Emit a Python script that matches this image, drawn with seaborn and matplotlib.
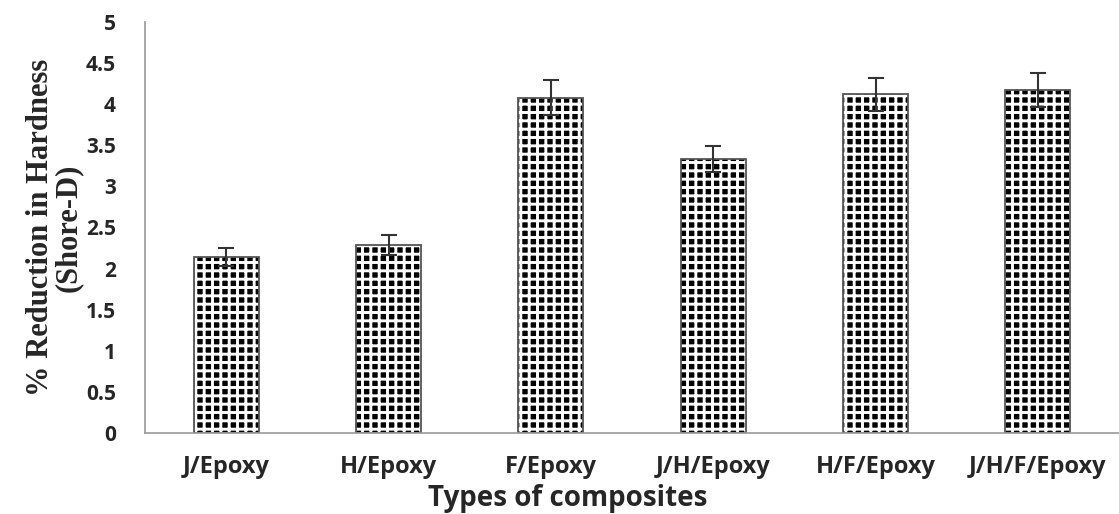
import numpy as np
import pandas as pd
import matplotlib
matplotlib.use('Agg')
import matplotlib.pyplot as plt
from matplotlib.patches import Rectangle
import seaborn as sns

composites = ["J/Epoxy", "H/Epoxy", "F/Epoxy", "J/H/Epoxy", "H/F/Epoxy", "J/H/F/Epoxy"]
reduction = [2.14, 2.29, 4.08, 3.33, 4.12, 4.17]
error = [0.11, 0.12, 0.21, 0.16, 0.20, 0.21]

df = pd.DataFrame({"composite": composites, "reduction": reduction, "err": error})

sns.set_style("white")
plt.rcParams['hatch.linewidth'] = 2.1

fig = plt.figure(figsize=(11.19, 5.14), dpi=100)
ax = fig.add_axes([0.1296, 0.1576, 0.8704, 0.7996])

sns.barplot(data=df, x="composite", y="reduction", ax=ax, width=0.4,
            color="black", errorbar=None)
for p in list(ax.patches):
    p.set_facecolor("black")
    p.set_edgecolor("white")
    p.set_linewidth(0)
    p.set_hatch("++")
    # outline drawn on top of the hatched fill
    ax.add_patch(Rectangle(p.get_xy(), p.get_width(), p.get_height(), fill=False,
                           edgecolor="#555555", linewidth=1.3, zorder=p.get_zorder() + 0.1))

x = np.arange(len(composites))
ax.errorbar(x, df["reduction"], yerr=df["err"], fmt="none", ecolor="#333333",
            elinewidth=1.5, capsize=6, capthick=1.5, zorder=5)

ax.set_ylim(0, 5)
ax.set_xlim(-0.5, len(composites) - 0.5)
ax.set_yticks(np.arange(0, 5.01, 0.5))
ax.set_yticklabels(["0", "0.5", "1", "1.5", "2", "2.5", "3", "3.5", "4", "4.5", "5"])
ax.set_xticks(x)
ax.set_xticks(np.arange(-0.5, len(composites), 1), minor=True)
ax.tick_params(axis="x", which="major", length=0, pad=16)
ax.tick_params(axis="x", which="minor", length=8, color="#999999", width=1.2, direction="out")
ax.tick_params(axis="y", length=8, color="#999999", width=1.2, direction="out", pad=13)
for lab in ax.get_yticklabels():
    lab.set_fontfamily("Open Sans")
    lab.set_fontweight("bold")
    lab.set_fontsize(15)
for lab in ax.get_xticklabels():
    lab.set_fontfamily("Open Sans")
    lab.set_fontweight("bold")
    lab.set_fontsize(17)

for s in ["top", "right"]:
    ax.spines[s].set_visible(False)
for s in ["left", "bottom"]:
    ax.spines[s].set_color("#999999")
    ax.spines[s].set_linewidth(1.2)

ax.set_xlabel("Types of composites", fontfamily="Open Sans", fontweight="bold", fontsize=20)
ax.xaxis.set_label_coords(0.434, -0.123)
ax.set_ylabel("% Reduction in Hardness\n(Shore-D)", fontfamily="Liberation Serif",
              fontweight="bold", fontsize=22, linespacing=0.95)
ax.yaxis.set_label_coords(-0.064, 0.5)

plt.savefig("out.png", dpi=100)
plt.close()
